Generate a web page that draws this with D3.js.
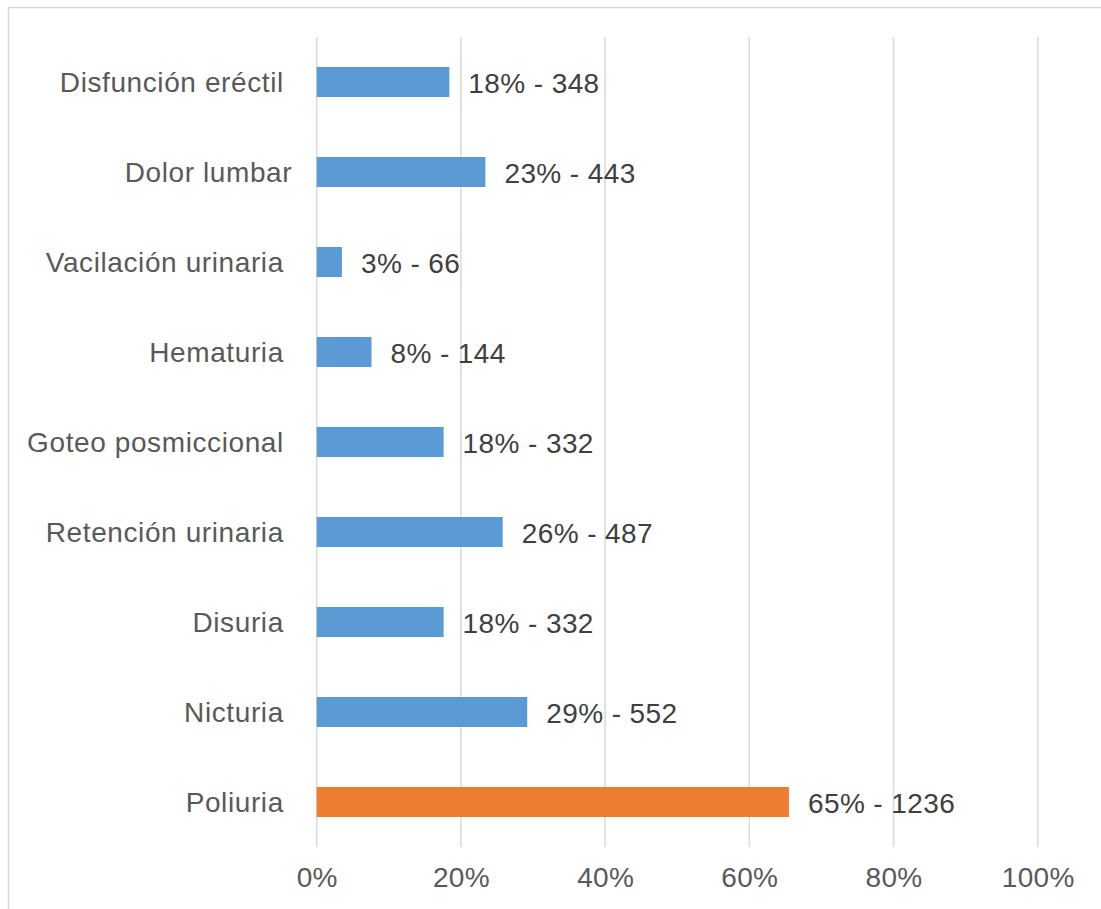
<!DOCTYPE html>
<html>
<head>
<meta charset="utf-8">
<script src="https://cdn.jsdelivr.net/npm/d3@7"></script>
<style>
  body { margin: 0; background: #fff; }
  svg { display: block; font-family: "Liberation Sans", Arial, sans-serif; }
</style>
</head>
<body>
<script>
// categories top to bottom (trailing spaces as in the source sheet)
var categories = ["Disfunción eréctil ", "Dolor lumbar", "Vacilación urinaria ", "Hematuria ",
  "Goteo posmiccional ", "Retención urinaria ", "Disuria ", "Nicturia ", "Poliuria "];
// percentages
var percents = [18.4, 23.4, 3.5, 7.6, 17.6, 25.8, 17.6, 29.2, 65.5];
// counts shown in labels
var counts = [348, 443, 66, 144, 332, 487, 332, 552, 1236];
var labelPct = [18, 23, 3, 8, 18, 26, 18, 29, 65];
var xTicks = [0, 20, 40, 60, 80, 100];

var data = categories.map(function(c, i) {
  return {name: c, pct: percents[i], count: counts[i], lab: labelPct[i]};
});

var W = 1101, H = 909;
var margin = {top: 37, left: 316.7, right: 63.3, bottom: 62};
var width = W - margin.left - margin.right,
    height = H - margin.top - margin.bottom;

var svg = d3.select("body").append("svg")
    .attr("width", W)
    .attr("height", H);

// chart frame (runs off the right / bottom edges)
svg.append("rect")
    .attr("x", 8.5).attr("y", 7.5)
    .attr("width", 1110).attr("height", 920)
    .attr("fill", "none")
    .attr("stroke", "#d9d9d9")
    .attr("stroke-width", 1.5);

var g = svg.append("g")
    .attr("transform", "translate(" + margin.left + "," + margin.top + ")");

var x = d3.scaleLinear().domain([0, 100]).range([0, width]);
var y = d3.scaleBand().domain(categories).range([0, height]).paddingInner(2 / 3).paddingOuter(1 / 3);

// gridlines
g.selectAll(".grid")
    .data(xTicks)
  .enter().append("line")
    .attr("x1", function(d) { return x(d); })
    .attr("x2", function(d) { return x(d); })
    .attr("y1", 0)
    .attr("y2", height)
    .attr("stroke", "#d9d9d9")
    .attr("stroke-width", 1.5);

// x axis tick labels
var xAxis = g.append("g")
    .attr("transform", "translate(0," + height + ")")
    .call(d3.axisBottom(x).tickValues(xTicks).tickSize(0).tickPadding(20)
      .tickFormat(function(d) { return d + "%"; }));
xAxis.select(".domain").remove();
xAxis.selectAll("text")
    .attr("fill", "#595959")
    .style("font-size", "28px")
    .style("letter-spacing", "0.3px")
    .style("font-family", "Liberation Sans, Arial, sans-serif");

// y axis category labels
var yAxis = g.append("g")
    .call(d3.axisLeft(y).tickSize(0).tickPadding(24.5));
yAxis.select(".domain").remove();
yAxis.selectAll("text")
    .attr("fill", "#595959")
    .attr("dy", "0.35em")
    .style("white-space", "pre")
    .style("font-size", "28px")
    .style("letter-spacing", "0.6px")
    .style("font-family", "Liberation Sans, Arial, sans-serif");

// bars
g.selectAll(".bar")
    .data(data)
  .enter().append("rect")
    .attr("x", x(0))
    .attr("y", function(d) { return y(d.name); })
    .attr("width", function(d) { return x(d.pct) - x(0); })
    .attr("height", y.bandwidth())
    .attr("fill", function(d) { return d.name.trim() === "Poliuria" ? "#ed7d31" : "#5b9bd5"; });

// data labels
g.selectAll(".lbl")
    .data(data)
  .enter().append("text")
    .attr("x", function(d) { return x(d.pct) + 19; })
    .attr("y", function(d) { return y(d.name) + y.bandwidth() / 2; })
    .attr("dy", "0.38em")
    .attr("fill", "#404040")
    .style("font-size", "28px")
    .style("letter-spacing", "0.4px")
    .text(function(d) { return d.lab + "% - " + d.count; });
</script>
</body>
</html>
